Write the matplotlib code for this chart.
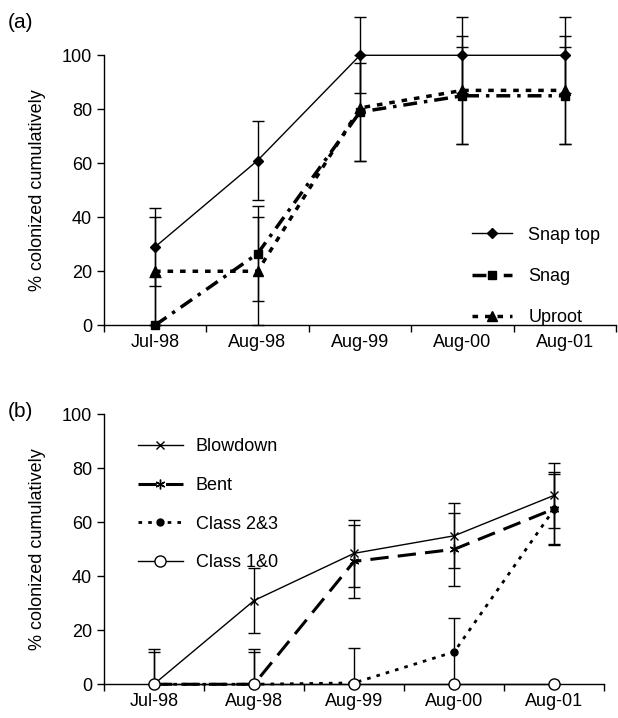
import numpy as np
import matplotlib
matplotlib.use('Agg')
import matplotlib.pyplot as plt

plt.rcParams['font.family'] = ['Liberation Sans', 'DejaVu Sans']

# ── Data ─────────────────────────────────────────────────────────────────────
dates = ['Jul-98', 'Aug-98', 'Aug-99', 'Aug-00', 'Aug-01']

# panel (a)
snap_top     = [29, 61, 100, 100, 100]
snap_top_err = [14.5, 14.5, 14, 14, 14]
snag         = [0, 26.5, 79, 85, 85]
snag_err     = [18, 17.5, 18, 18, 18]
uproot       = [20, 20, 80.5, 87, 87]
uproot_err   = [20, 20, 19.5, 20, 20]

# panel (b)
blowdown      = [0, 31, 48.5, 55, 70]
blowdown_err  = [13, 12, 12.5, 12, 12]
bent          = [0, 0, 45.5, 50, 65]
bent_err      = [12, 13, 13.5, 13.5, 13.5]
class23       = [0, 0, 0.5, 12, 65]
class23_err   = [0, 12, 13, 12.5, 13]
class10       = [0, 0, 0, 0, 0]

FS = 13


def style_ax(ax):
    for s in ('top', 'right'):
        ax.spines[s].set_visible(False)
    ax.spines['left'].set_linewidth(1.0)
    ax.spines['bottom'].set_linewidth(1.0)
    x = np.arange(len(dates))
    ax.set_xticks(x)
    ax.set_xticklabels(dates, fontsize=FS)
    ax.set_xticks(np.arange(len(dates) + 1) - 0.5, minor=True)
    ax.tick_params(axis='x', which='major', length=0, pad=6)
    ax.tick_params(axis='x', which='minor', length=5, width=1, direction='out')
    ax.set_xlim(-0.5, len(dates) - 0.5)
    ax.set_ylim(0, 100)
    ax.set_yticks(range(0, 101, 20))
    ax.tick_params(axis='y', labelsize=FS, length=5, width=1, direction='out')
    ax.set_ylabel('% colonized cumulatively', fontsize=FS, labelpad=11)


def series(ax, vals, err, **kw):
    x = np.arange(len(vals))
    v = np.array(vals, dtype=float)
    ax.plot(x, v, color='black', clip_on=False, zorder=3, **kw)
    if err is not None:
        e = np.array(err, dtype=float)
        lo = np.minimum(e, v)
        eb = ax.errorbar(x, v, yerr=[lo, e], fmt='none', ecolor='black',
                         elinewidth=1.0, capsize=4, capthick=1.0, zorder=2)
        for art in eb.lines[1] + eb.lines[2]:
            art.set_clip_on(False)


fig = plt.figure(figsize=(6.18, 7.18), dpi=100)

# ── Panel (a) ────────────────────────────────────────────────────────────────
ax1 = fig.add_axes([0.168, 0.547, 0.829, 0.376])
style_ax(ax1)
series(ax1, snap_top, snap_top_err, lw=1.0, marker='D', ms=5,
       label='Snap top')
series(ax1, snag, snag_err, lw=2.5, ls=(0, (4, 2, 1, 2)), marker='s', ms=6,
       label='Snag')
series(ax1, uproot, uproot_err, lw=2.5, ls=(0, (1.6, 2)), marker='^', ms=7,
       label='Uproot')
ax1.legend(frameon=False, fontsize=FS, loc='center left',
           bbox_to_anchor=(0.719, 0.181), borderaxespad=0, borderpad=0,
           handlelength=2.2, numpoints=1, labelspacing=1.35,
           handletextpad=0.9)
fig.text(0.012, 0.968, '(a)', fontsize=15, ha='left', va='center')

# ── Panel (b) ────────────────────────────────────────────────────────────────
ax2 = fig.add_axes([0.168, 0.047, 0.81, 0.376])
style_ax(ax2)
series(ax2, blowdown, blowdown_err, lw=1.0, marker='x', ms=6, mew=1.0,
       label='Blowdown')
series(ax2, bent, bent_err, lw=2.2, ls=(0, (6, 3)), marker=(6, 2, 0), ms=7,
       mew=1.0, label='Bent')
series(ax2, class23, class23_err, lw=2.0, ls=(0, (1.3, 2.2)), marker='o',
       ms=5, label='Class 2&3')
series(ax2, class10, None, lw=1.0, marker='o', ms=8, mfc='white', mew=1.0,
       label='Class 1&0')
ax2.legend(frameon=False, fontsize=FS, loc='center left',
           bbox_to_anchor=(0.068, 0.665), borderaxespad=0, borderpad=0,
           handlelength=2.5, numpoints=1, labelspacing=1.2,
           handletextpad=0.7)
fig.text(0.012, 0.427, '(b)', fontsize=15, ha='left', va='center')

fig.savefig('out.png', dpi=100)
